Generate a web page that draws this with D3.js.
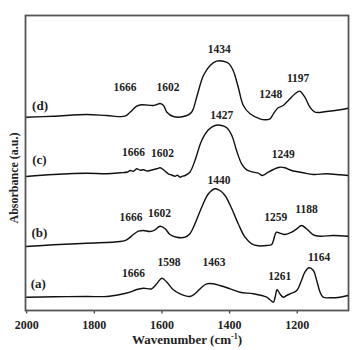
<!DOCTYPE html>
<html lang="en">
<head>
    <meta charset="UTF-8">
    <title>FTIR spectra</title>
    <script src="https://cdn.jsdelivr.net/npm/d3@7"></script>
    <style>
        body { margin: 0; background: #fff; }
        svg text { font-family: "Liberation Serif", "DejaVu Serif", serif; font-weight: bold; fill: #222; }
    </style>
</head>
<body>
    <svg width="355" height="350" id="mainsvg"></svg>
    <script>
        // spectra: [wavenumber, absorbance (a.u., offset stacked)]
        const specA = [[2000,13.3],[1919,13.7],[1821,14],[1762,14],[1722,16],[1693,18.3],[1673,21],[1653,22.3],[1629,21.7],
            [1614,26.7],[1599,32.3],[1584,28.3],[1565,20.7],[1545,16.7],[1516,14],[1501,16.7],[1481,23.3],[1466,26.7],
            [1447,26.7],[1427,25],[1397,21.7],[1368,18.3],[1328,16.7],[1289,13.3],[1279,10.7],[1269,8.3],[1264,13.3],
            [1258,20.7],[1250,16.7],[1240,13.3],[1230,15],[1215,17.3],[1200,20],[1186,30],[1176,38.3],[1164,42.7],
            [1151,40],[1141,30],[1131,18.3],[1122,13.3],[1102,12.7],[1072,13.3],[1048,15]];
        const specB = [[2000,64],[1919,65.7],[1821,67.3],[1722,69],[1703,70.7],[1683,76],[1668,79.3],[1653,80],[1634,79],
            [1619,80.7],[1604,84.3],[1589,81.7],[1575,76],[1555,73.3],[1530,73.3],[1516,76.7],[1501,86.7],[1481,103.3],
            [1461,116.7],[1442,121.7],[1427,120],[1412,115],[1392,101.7],[1373,86.7],[1353,73.3],[1333,66.7],[1314,64.7],
            [1289,65],[1274,66],[1269,70],[1260,78.3],[1250,77.3],[1235,76],[1215,78.3],[1200,81.7],[1186,85],
            [1171,81.7],[1151,75.7],[1131,74.3],[1092,75],[1048,74.3]];
        const specC = [[2000,134],[1919,136],[1821,137.3],[1762,136.7],[1722,137.7],[1700,138.5],[1693,140],[1683,139.3],
            [1673,141.7],[1663,140.3],[1653,140.7],[1643,139.5],[1634,140],[1614,141.7],[1604,142.7],[1594,140.7],[1580,136.7],
            [1570,135.5],[1560,134.3],[1553,135.2],[1545,133.3],[1538,134.3],[1530,135],
            [1516,138.3],[1501,150],[1481,170],[1461,180.7],[1442,185],[1422,185],[1407,182.7],[1392,175],[1378,160],
            [1363,146.7],[1348,140.7],[1328,138.3],[1314,137.3],[1301,135],[1289,137.3],[1269,141],[1250,143.3],
            [1235,142.7],[1215,140],[1181,137.7],[1151,136],[1112,136.7],[1072,135.7],[1048,135]];
        const specD = [[2000,193.3],[1919,194.3],[1821,196],[1762,195],[1708,194.3],[1693,198.3],[1673,204.3],[1658,205.7],
            [1624,205],[1614,206],[1604,207],[1594,205],[1584,198.3],[1565,194],[1535,194],[1511,198.3],[1496,213.3],
            [1476,235],[1456,245],[1437,249.3],[1417,249.3],[1402,247.3],[1388,240],[1373,223.3],[1358,205],[1338,196.7],
            [1309,191.7],[1294,190.7],[1279,191.7],[1269,196.7],[1255,202.7],[1240,205],[1225,210],[1205,216.7],
            [1191,219.3],[1176,213.3],[1161,203.3],[1146,198.3],[1112,199],[1072,200.7],[1048,202.3]];

        // peak labels: [text, wavenumber, absorbance]
        const labelsA = [['1666',1683,33.3],['1598',1578,45],['1463',1445,45],['1261',1250,30.7],['1164',1134,50]];
        const labelsB = [['1440',1430,126.7],['1666',1690,89.3],['1602',1606,93.3],['1259',1262,90],['1188',1171,97.7]];
        const labelsC = [['1427',1422,191.5],['1666',1683,155],['1602',1597,154],['1249',1240,152.3]];
        const labelsD = [['1434',1429,257.3],['1666',1708,219.3],['1602',1581,219.3],['1248',1277,212.3],['1197',1196,228.3]];
        const curveNames = [['(a)',1964,22.7],['(b)',1961,74],['(c)',1961,146.7],['(d)',1959,200.7]];
        const xTicks = [2000, 1800, 1600, 1400, 1200];

        const svg = d3.select('svg');
        const margin = {top: 15.5, right: 6.5, bottom: 39.5, left: 25.5};
        const innerWidth = 355 - margin.left - margin.right;
        const innerHeight = 350 - margin.top - margin.bottom;
        const g = svg.append('g').attr('transform', `translate(${margin.left}, ${margin.top})`);

        const xScale = d3.scaleLinear().domain([2002, 1047]).range([0, innerWidth]);
        const yScale = d3.scaleLinear().domain([0, 295]).range([innerHeight, 0]);

        // axis
        const xAxis = d3.axisBottom(xScale).tickValues(xTicks).tickFormat(d3.format('d')).tickSize(3).tickPadding(7);
        const xAxisGroup = g.append('g').attr('transform', `translate(0, ${innerHeight})`).call(xAxis);
        xAxisGroup.select('.domain').remove();
        xAxisGroup.selectAll('.tick line').attr('stroke', '#444').attr('stroke-width', 1.3);
        xAxisGroup.selectAll('.tick text').attr('font-size', '12px');

        // frame
        g.append('rect').attr('width', innerWidth).attr('height', innerHeight)
            .attr('fill', 'none').attr('stroke', '#555').attr('stroke-width', 1.8);

        // spectra
        const line = d3.line().x(d => xScale(d[0])).y(d => yScale(d[1])).curve(d3.curveCatmullRom);
        [specA, specB, specC, specD].forEach(s => {
            g.append('path').datum(s).attr('d', line)
                .attr('fill', 'none').attr('stroke', '#111').attr('stroke-width', 1.4);
        });

        // peak labels
        [labelsA, labelsB, labelsC, labelsD].forEach(ls => {
            g.selectAll(null).data(ls).join('text')
                .attr('x', d => xScale(d[1])).attr('y', d => yScale(d[2]))
                .attr('text-anchor', 'middle').attr('font-size', '11.5px').text(d => d[0]);
        });
        g.selectAll(null).data(curveNames).join('text')
            .attr('x', d => xScale(d[1])).attr('y', d => yScale(d[2]))
            .attr('text-anchor', 'middle').attr('font-size', '13px').text(d => d[0]);

        // axis titles
        const xt = svg.append('text').attr('x', 187).attr('y', 344)
            .attr('text-anchor', 'middle').attr('font-size', '13px');
        xt.append('tspan').text('Wavenumber (cm');
        xt.append('tspan').attr('dy', -5).attr('font-size', '8px').text('-1');
        xt.append('tspan').attr('dy', 5).text(')');

        svg.append('text').attr('transform', 'translate(18, 178) rotate(-90)')
            .attr('text-anchor', 'middle').attr('font-size', '12px').text('Absorbance (a.u.)');
    </script>
</body>
</html>
